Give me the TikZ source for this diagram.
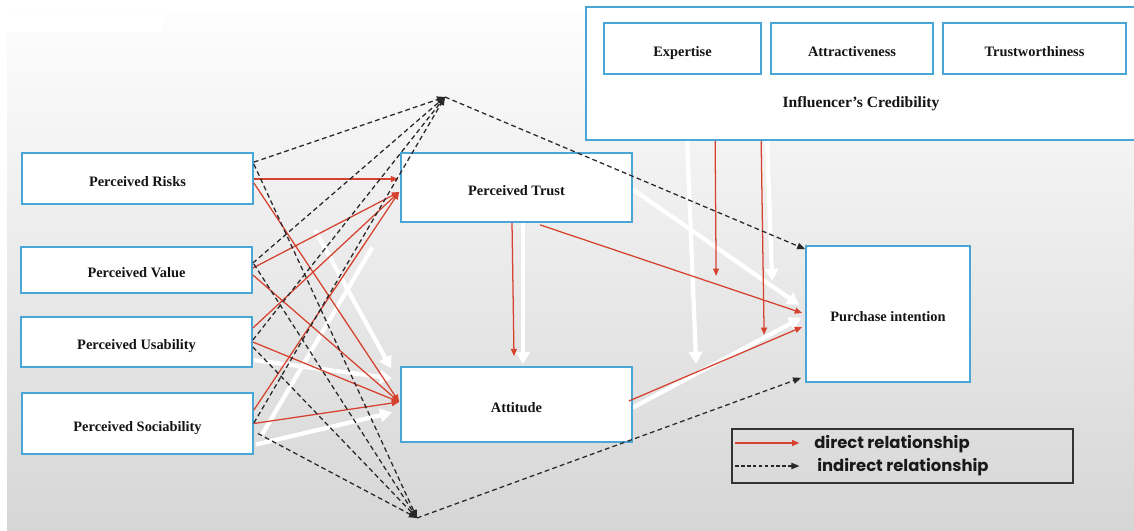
\documentclass[tikz,border=0pt]{standalone}
\usepackage{fontspec}
\setmainfont{Liberation Serif}
\newfontfamily\legfont{Poppins}
\usetikzlibrary{arrows.meta,calc,backgrounds}
\definecolor{boxblue}{RGB}{74,166,214}
\definecolor{redline}{RGB}{214,66,48}
\definecolor{dashcol}{RGB}{40,40,40}
\definecolor{bgtop}{RGB}{253,253,253}
\definecolor{bgmid}{RGB}{240,240,240}
\definecolor{bgbot}{RGB}{214,214,214}
\begin{document}
\begin{tikzpicture}[x=0.75pt,y=-0.75pt,
  box/.style={draw=boxblue,line width=1.3pt,fill=white,inner sep=0pt,
    text height=11.5pt,text depth=0pt,
    font=\fontsize{10.8}{12}\selectfont\bfseries,text=black!92},
  dirarrow/.style={draw=redline,line width=0.95pt,-{Triangle[length=5.5pt,width=4.5pt]}},
  indarrow/.style={draw=dashcol,line width=0.95pt,dash pattern=on 3.6pt off 2.4pt,
    -{Triangle[length=6pt,width=4.8pt]}},
  ghost/.style={draw=white,line width=3.2pt,-{Triangle[length=9pt,width=10pt]}},
  ghostline/.style={draw=white,line width=3.2pt},
  legtext/.style={anchor=west,inner sep=0pt,font=\legfont\bfseries\fontsize{12.3}{14}\selectfont,text=black!90}]
\useasboundingbox (0,0) rectangle (1134,531);

% boxes
\node[box,minimum width=173.25pt,minimum height=38.25pt] (risks) at (137.5,178.5) {Perceived Risks};
\node[box,minimum width=173.25pt,minimum height=34.5pt] (value) at (136.5,270) {Perceived Value};
\node[box,minimum width=173.25pt,minimum height=37.5pt] (usab) at (136.5,342) {Perceived Usability};
\node[box,minimum width=173.25pt,minimum height=45.75pt] (socia) at (137.5,423.5) {Perceived Sociability};
\node[box,minimum width=173.25pt,minimum height=51.75pt] (trust) at (516.5,187.5) {Perceived Trust};
\node[box,minimum width=173.25pt,minimum height=56.25pt] (att) at (516.5,404.5) {Attitude};
\node[box,minimum width=123pt,minimum height=102pt] (pi) at (888,314) {Purchase intention};
\node[box,minimum width=414pt,minimum height=99.75pt] (infl) at (862,73.5) {};
\node[box,minimum width=117.75pt,minimum height=38.25pt] (exp) at (682.5,48.5) {Expertise};
\node[box,minimum width=121.5pt,minimum height=38.25pt] (attr) at (852,48.5) {Attractiveness};
\node[box,minimum width=137.25pt,minimum height=38.25pt] (trw) at (1034.5,48.5) {Trustworthiness};
\node[inner sep=0pt,text height=12pt,text depth=0pt,font=\fontsize{11.7}{13}\selectfont\bfseries,text=black!92] (infllab) at (861,100) {Influencer’s Credibility};

% mediator points
\coordinate (tp) at (445,97);
\coordinate (bp) at (417,518);
\coordinate (T1) at ($(trust.west)+(-2,-8.5)$);
\coordinate (T2) at ($(trust.west)+(-1,4.5)$);
\coordinate (A) at ($(att.west)+(-1,-2.5)$);

% direct relationships
\draw[dirarrow] ($(risks.east)+(0,0.5)$) -- (T1);
\draw[dirarrow] ($(risks.east)+(0,4.5)$) -- (A);
\draw[dirarrow] ($(value.east)+(0,-2)$) -- (T2);
\draw[dirarrow] ($(value.east)+(0,5)$) -- (A);
\draw[dirarrow] ($(usab.east)+(0,-14)$) -- (T2);
\draw[dirarrow] ($(usab.east)+(0,0)$) -- (A);
\draw[dirarrow] ($(socia.east)+(0,-13.5)$) -- (T2);
\draw[dirarrow] ($(socia.east)+(0,0)$) -- (A);
\draw[dirarrow] ($(trust.south)+(-4.5,0)$) -- ($(att.north)+(-2.5,-10)$);
\draw[dirarrow] ($(trust.south)+(23.5,2)$) -- ($(pi.west)+(-3,-1)$);
\draw[dirarrow] ($(att.east)+(-4,-3.5)$) -- ($(pi.west)+(-3,13)$);
\draw[dirarrow] ($(infl.south west)+(130,0)$) -- ($(infl.south west)+(131,135)$);
\draw[dirarrow] ($(infl.south west)+(176,0)$) -- ($(infl.south west)+(179,194)$);

% indirect relationships
\draw[indarrow] ($(risks.north east)+(0,10)$) -- (tp);
\draw[indarrow] ($(risks.north east)+(0,12)$) -- (bp);
\draw[indarrow] ($(value.east)+(0,-7)$) -- (tp);
\draw[indarrow] ($(value.east)+(1,-6)$) -- (bp);
\draw[indarrow] ($(usab.east)+(0,-2)$) -- (tp);
\draw[indarrow] ($(usab.east)+(0,5)$) -- (bp);
\draw[indarrow] ($(socia.east)+(0,-0.5)$) -- (tp);
\draw[indarrow] ($(socia.east)+(4,10)$) -- (bp);
\draw[indarrow] (tp) -- ($(pi.north west)+(0,4)$);
\draw[indarrow] (bp) -- ($(pi.south west)+(-4,-5)$);

% legend
\node[draw=black!80,line width=0.9pt,inner sep=0pt,minimum width=255.75pt,minimum height=40.5pt] (leg) at (902.5,456) {};
\coordinate (l1s) at ($(leg.west)+(4,-13)$);
\coordinate (l1e) at ($(leg.west)+(68,-13)$);
\coordinate (l2s) at ($(leg.west)+(4,10)$);
\coordinate (l2e) at ($(leg.west)+(68,10)$);
\draw[dirarrow] (l1s) -- (l1e);
\draw[indarrow,line width=0.8pt,dash pattern=on 2.6pt off 1.8pt] (l2s) -- (l2e);
\node[legtext] (lt1) at (814,444) {direct relationship};
\node[legtext] (lt2) at (817,467) {indirect relationship};

% background and faint white arrows
\begin{scope}[on background layer]
\fill[white] (0,0) rectangle (1134,531);
\shade[top color=bgtop,middle color=bgmid,bottom color=bgbot] (7,15) rectangle (1134,531);
\fill[white] (7,15) rectangle (163,32);
\draw[ghost] ($(trust.south)+(6.5,0)$) -- ($(att.north)+(6.5,-2)$);
\draw[ghost] ($(infl.south west)+(102,0)$) -- ($(infl.south west)+(111,223)$);
\draw[ghost] ($(infl.south west)+(182,0)$) -- ($(infl.south west)+(187,140)$);
\draw[ghost] ($(trust.east)+(0,2)$) -- ($(pi.west)+(-6,-9)$);
\draw[ghost] ($(att.east)+(0,3)$) -- ($(pi.west)+(-4,4)$);
\draw[ghost] ($(usab.east)+(1,18)$) -- ($(att.west)+(-8,-26)$);
\draw[ghost] ($(socia.east)+(2,21)$) -- ($(att.west)+(-8,8)$);
\draw[ghost] ($(value.east)+(62,-40)$) -- ($(att.west)+(-9,-36)$);
\draw[ghostline] ($(socia.east)+(7,13)$) -- ($(trust.west)+(-28,60)$);
\end{scope}
\end{tikzpicture}
\end{document}
